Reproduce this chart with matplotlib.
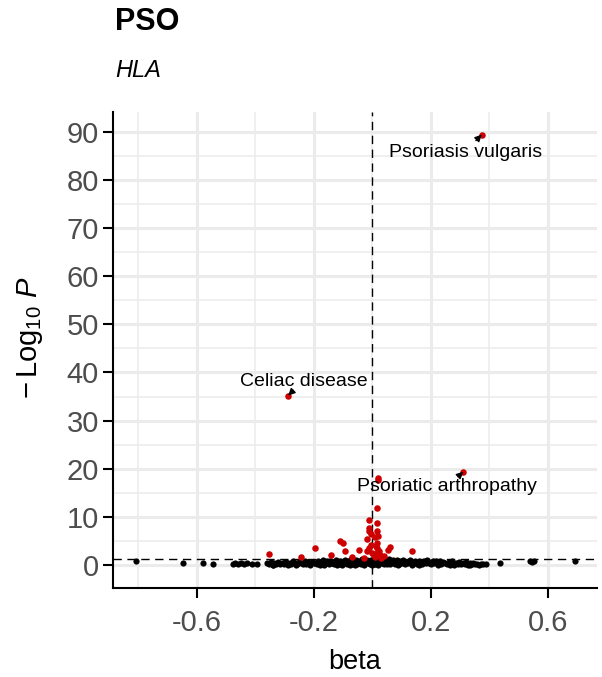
import matplotlib
matplotlib.use("Agg")
import matplotlib.pyplot as plt
import numpy as np

plt.rcParams['font.family'] = ['Liberation Sans', 'DejaVu Sans']
plt.rcParams['mathtext.fontset'] = 'custom'
plt.rcParams['mathtext.rm'] = 'Liberation Sans'
plt.rcParams['mathtext.it'] = 'Liberation Sans:italic'

# non-significant associations (black)
beta_ns = [
    -0.810, -0.647, -0.580, -0.546, -0.478, -0.470, -0.460, -0.448, -0.438, -0.430,
    -0.410, -0.393,
    -0.362, -0.355, -0.348, -0.341, -0.335, -0.328, -0.322, -0.315, -0.309, -0.302,
    -0.296, -0.289, -0.283, -0.277, -0.270, -0.264, -0.258, -0.251, -0.245, -0.239,
    -0.232, -0.226, -0.220, -0.213, -0.207, -0.201,
    -0.195, -0.190, -0.185, -0.180, -0.175, -0.170, -0.165, -0.160, -0.155, -0.150,
    -0.145, -0.140, -0.135, -0.130, -0.125, -0.120, -0.115, -0.110, -0.105, -0.100,
    -0.096, -0.092, -0.088, -0.084, -0.080, -0.076, -0.072, -0.068, -0.064, -0.060,
    -0.056, -0.052, -0.048, -0.044, -0.040, -0.036, -0.032, -0.028, -0.024, -0.020,
    -0.016, -0.012, -0.008, -0.004, 0.000, 0.004, 0.008, 0.012, 0.016, 0.020,
    0.024, 0.028, 0.032, 0.036, 0.040, 0.044, 0.048, 0.052, 0.056, 0.060,
    0.064, 0.068, 0.072, 0.076, 0.080, 0.084, 0.088, 0.092, 0.096, 0.100,
    -0.090, -0.070, -0.050, -0.030, -0.010, 0.010, 0.030, 0.050, 0.070, 0.090,
    -0.060, 0.000, 0.015, -0.015, 0.045,
    0.105, 0.110, 0.116, 0.122, 0.128, 0.134, 0.140, 0.146, 0.152, 0.158,
    0.164, 0.170, 0.176, 0.182, 0.188, 0.194, 0.200, 0.206, 0.212, 0.218,
    0.224, 0.230, 0.236, 0.242, 0.248,
    0.255, 0.261, 0.267, 0.273, 0.279, 0.285, 0.291, 0.297, 0.303, 0.309,
    0.315, 0.321, 0.327, 0.333, 0.339, 0.345, 0.351, 0.357, 0.363, 0.370,
    0.378, 0.388, 0.436, 0.538, 0.545, 0.552, 0.692,
    -0.340, -0.300, -0.260, -0.220, -0.180, -0.140, -0.120, -0.080, -0.045, -0.025,
    0.025, 0.055, 0.085, 0.125, 0.160, 0.195, 0.230, 0.265, 0.300, 0.335,
]
logp_ns = [
    0.90, 0.35, 0.50, 0.20, 0.30, 0.45, 0.25, 0.40, 0.30, 0.35,
    0.30, 0.30,
    0.35, 0.20, 0.55, 0.10, 0.40, 0.25, 0.70, 0.15, 0.45, 0.30,
    0.60, 0.10, 0.50, 0.25, 0.80, 0.35, 0.15, 0.60, 0.40, 0.20,
    0.90, 0.30, 0.55, 0.10, 0.70, 0.35,
    0.45, 0.20, 0.85, 0.60, 0.30, 1.00, 0.10, 0.50, 0.75, 0.25,
    0.95, 0.40, 0.65, 0.15, 1.10, 0.55, 0.30, 0.85, 0.05, 0.70,
    0.40, 1.15, 0.20, 0.90, 0.60, 0.10, 1.20, 0.35, 0.80, 0.50,
    1.05, 0.15, 0.70, 0.95, 0.30, 1.25, 0.55, 0.05, 0.85, 1.10,
    0.40, 0.65, 0.20, 1.00, 0.75, 0.30, 1.20, 0.50, 0.90, 0.10,
    1.15, 0.60, 0.35, 0.95, 0.20, 1.05, 0.70, 0.45, 1.20, 0.15,
    0.85, 0.55, 1.00, 0.30, 0.75, 1.10, 0.05, 0.60, 0.90, 0.40,
    0.55, 0.25, 0.90, 0.15, 0.95, 0.15, 0.85, 0.25, 0.65, 0.20,
    0.05, 0.05, 0.45, 0.80, 0.55,
    1.00, 0.25, 0.70, 0.45, 1.10, 0.10, 0.60, 0.85, 0.30, 0.95,
    0.50, 0.15, 0.80, 0.35, 1.00, 0.60, 0.20, 0.75, 0.40, 0.90,
    0.10, 0.55, 0.30, 0.70, 0.45,
    0.20, 0.60, 0.35, 0.80, 0.10, 0.50, 0.30, 0.65, 0.15, 0.45,
    0.25, 0.55, 0.10, 0.40, 0.20, 0.35, 0.15, 0.30, 0.10, 0.25,
    0.15, 0.30, 0.35, 0.90, 0.70, 0.80, 0.90,
    0.05, 0.65, 0.05, 0.45, 0.05, 0.75, 0.00, 0.25, 0.60, 0.35,
    0.50, 0.90, 0.35, 0.65, 0.05, 0.40, 0.80, 0.05, 0.40, 0.05,
]

# significant associations (red)
beta_sig = [
    0.020, 0.018, 0.017, -0.011, 0.017, -0.012, -0.010, -0.006, 0.015, 0.020,
    -0.018, -0.110, -0.100, -0.197, -0.094, -0.046, -0.140, -0.245, -0.353, 0.060,
    0.054, 0.134, -0.010, -0.020, 0.015, 0.017, 0.015, 0.025, 0.040, -0.070,
    0.005, 0.010, -0.030, 0.030, 0.008, 0.012, -0.005, 0.022, -0.002,
]
logp_sig = [
    18.0, 17.6, 11.9, 9.3, 8.7, 7.8, 7.1, 6.4, 7.1, 6.1,
    5.4, 5.0, 4.5, 3.5, 2.9, 3.1, 2.1, 1.6, 2.3, 3.7,
    3.1, 2.9, 3.5, 2.9, 4.5, 3.5, 2.5, 2.0, 1.8, 1.7,
    2.2, 1.6, 1.5, 1.5, 5.8, 4.0, 4.2, 3.0, 2.6,
]

# labelled traits
lab_names = ['Psoriasis vulgaris', 'Celiac disease', 'Psoriatic arthropathy']
lab_beta = [0.374, -0.288, 0.311]
lab_logp = [89.4, 35.2, 19.4]
lab_text_x = [0.320, -0.234, 0.254]
lab_text_y = [85.6, 38.1, 16.3]
arrow_off = [(-4.2, -4.3), (3.8, 3.8), (-3.8, -3.6)]

fig = plt.figure(figsize=(6.02, 6.77), dpi=100)
ax = fig.add_axes([0.1877, 0.1315, 0.8040, 0.7031])

ax.set_xlim(-0.887, 0.768)
ax.set_ylim(-4.75, 94.1)

ax.set_xticks([-0.6, -0.2, 0.2, 0.6])
ax.set_xticks([-0.8, -0.4, 0.0, 0.4], minor=True)
ax.set_yticks(np.arange(0, 91, 10))
ax.set_yticks(np.arange(5, 95, 10), minor=True)
ax.set_xticklabels(['-0.6', '-0.2', '0.2', '0.6'])

ax.grid(True, which='major', color='#EBEBEB', lw=2.2, zorder=0)
ax.grid(True, which='minor', color='#EBEBEB', lw=1.1, zorder=0)
ax.set_axisbelow(True)

for s in ['top', 'right']:
    ax.spines[s].set_visible(False)
for s in ['left', 'bottom']:
    ax.spines[s].set_linewidth(1.5)
ax.tick_params(which='major', length=7, width=1.5, labelsize=21,
               labelcolor='#4D4D4D', pad=3)
ax.tick_params(axis='x', which='major', pad=8)
ax.tick_params(which='minor', length=0)

ax.scatter(beta_ns, logp_ns, s=20, color='black', lw=0, zorder=3)
ax.scatter(beta_sig, logp_sig, s=22, color='#CC0000', lw=0, zorder=3)
ax.scatter(lab_beta, lab_logp, s=22, color='#CC0000', lw=0, zorder=3)

ax.axvline(0, color='black', lw=1.0, ls=(0, (6, 4)), zorder=2)
ax.axhline(-np.log10(0.05), color='black', lw=1.0, ls=(0, (6, 4)), zorder=2)

for name, bx, py, tx, ty, off in zip(lab_names, lab_beta, lab_logp,
                                      lab_text_x, lab_text_y, arrow_off):
    ax.annotate('', xy=(bx, py), xytext=off, textcoords='offset points',
                arrowprops=dict(arrowstyle='-|>', color='black', lw=1.0,
                                mutation_scale=10, shrinkA=0, shrinkB=0),
                zorder=4)
    ax.text(tx, ty, name, fontsize=14, ha='center', va='center', zorder=5)

ax.set_xlabel('beta', fontsize=19.5, labelpad=9)
ax.set_ylabel(r'$-\,\mathrm{Log}_{10}\ \mathit{P}$', fontsize=21)
ax.yaxis.set_label_coords(-0.14, 0.525)

fig.text(0.191, 0.967, 'PSO', fontsize=22, fontweight='bold', va='center')
fig.text(0.191, 0.896, 'HLA', fontsize=17, style='italic', va='center')

fig.savefig('out.png', dpi=100)
